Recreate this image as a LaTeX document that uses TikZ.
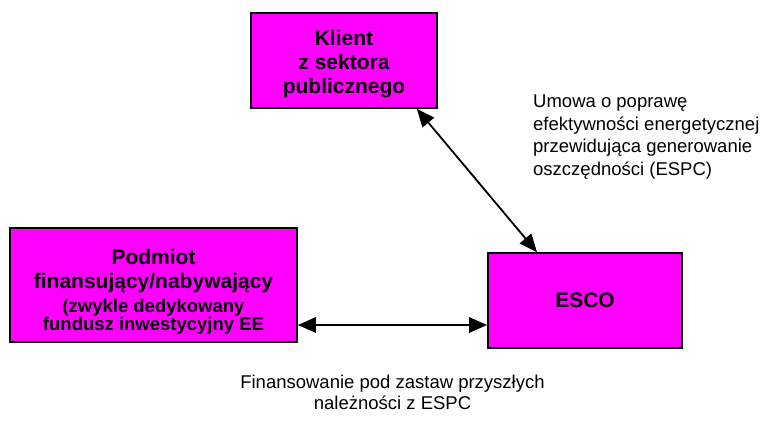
\documentclass[tikz,border=0pt]{standalone}
\usepackage{fontspec}
\setmainfont{Liberation Sans}
\usetikzlibrary{arrows.meta}
\definecolor{boxfill}{RGB}{255,0,255}
\tikzset{
  box/.style={draw=black, line width=1.6pt, fill=boxfill, align=center, inner sep=0pt},
  link/.style={line width=1.8pt, {Triangle[length=18pt,width=15pt]}-{Triangle[length=18pt,width=15pt]}},
  note/.style={align=center, font=\fontsize{18.5}{20.5}\selectfont, inner sep=0pt}
}
\begin{document}
\begin{tikzpicture}[x=1pt,y=-1pt]
\useasboundingbox (0,0) rectangle (762,421);
\node[box, minimum width=186pt, minimum height=95pt, font=\bfseries\fontsize{21}{24}\selectfont] (klient) at (344,60.5) {\rule{0pt}{23pt}Klient\\z sektora\\publicznego};
\node[box, minimum width=287pt, minimum height=114pt, font=\bfseries\fontsize{21}{24.5}\selectfont] (podmiot) at (153.5,285)
  {\rule{0pt}{29pt}Podmiot\\finansujący/nabywający\\[-1pt]\fontsize{18.5}{22}\selectfont (zwykle dedykowany\\[-6pt]\fontsize{18.5}{22}\selectfont fundusz inwestycyjny EE};
\node[box, minimum width=194pt, minimum height=95pt, font=\bfseries\fontsize{21}{24}\selectfont] (esco) at (585,300.5) {ESCO};
\node[note, align=left, anchor=west, font=\fontsize{18.5}{22.7}\selectfont] (umowa) at (533,137) {Umowa o poprawę\\efektywności energetycznej\\przewidująca generowanie\\oszczędności (ESPC)};
\node[note] (fin) at (392.5,392.5) {Finansowanie pod zastaw przyszłych\\należności z ESPC};
\coordinate (h1) at ([yshift=-40pt]podmiot.east);
\draw[link] ([xshift=-21pt]klient.south east) -- ([xshift=-48pt]esco.north);
\draw[link, line width=2.8pt] (h1) -- (h1 -| esco.west);
\end{tikzpicture}
\end{document}
